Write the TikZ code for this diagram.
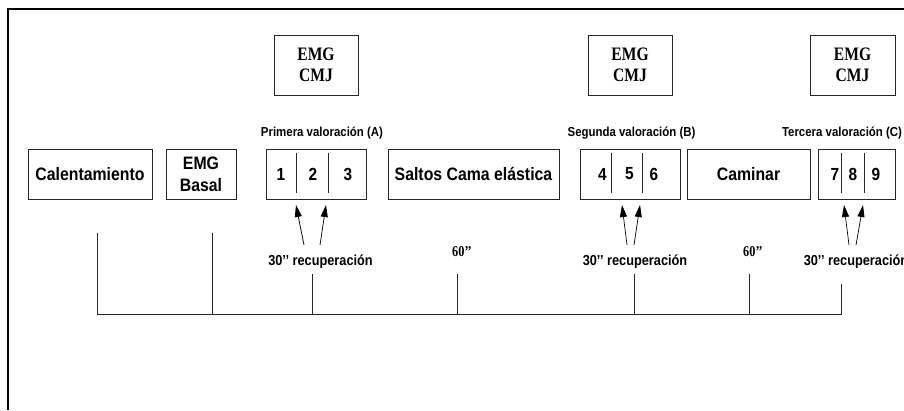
\documentclass[tikz,border=0pt]{standalone}
\usepackage{fontspec}
\setmainfont{Liberation Sans}[FakeStretch=0.88]
\newfontfamily\timesfont{Liberation Serif}[FakeStretch=0.82]
\usetikzlibrary{arrows.meta, calc}
\tikzset{
  stagebox/.style={draw=black!85, line width=0.8pt, minimum height=50pt, inner sep=0pt,
    font=\fontsize{18}{22}\selectfont\bfseries, align=center},
  cmjbox/.style={draw=black!85, line width=0.8pt, minimum width=84pt, minimum height=60pt,
    inner sep=0pt, font=\fontsize{19}{21}\selectfont\timesfont\bfseries, align=center},
  digit/.style={inner sep=0pt, font=\fontsize{17.5}{20}\selectfont\bfseries},
  evallabel/.style={inner sep=1pt, font=\fontsize{13}{15}\selectfont\bfseries},
  reclabel/.style={inner sep=1pt, font=\fontsize{14.5}{16}\selectfont\bfseries},
  restlabel/.style={inner sep=1pt, font=\fontsize{15}{16}\selectfont\timesfont\bfseries},
  divider/.style={line width=0.8pt, black!85},
  up/.style={-{Triangle[length=12pt,width=7pt]}, line width=0.7pt},
  tline/.style={line width=0.8pt, black!85}
}

\begin{document}
\begin{tikzpicture}[x=1pt, y=-1pt]
    \useasboundingbox (0,0) rectangle (904,410);
    \clip (0,0) rectangle (904,410);
    \draw[line width=2pt] (8,410) -- (8,8.5) -- (904,8.5);
    % EMG CMJ boxes
    \node[cmjbox] (cmj1) at (316,65) {EMG\\CMJ};
    \node[cmjbox] (cmj2) at (630,65) {EMG\\CMJ};
    \node[cmjbox, minimum width=85pt] (cmj3) at (852.5,65) {EMG\\CMJ};
    % assessment titles
    \node[evallabel] (tit1) at (322,133) {Primera valoración (A)};
    \node[evallabel] (tit2) at (631.5,133) {Segunda valoración (B)};
    \node[evallabel] (tit3) at (842,133) {Tercera valoración (C)};
    % protocol row
    \node[stagebox, minimum width=124pt] (cal) at (90,174) {Calentamiento};
    \node[stagebox, minimum width=70pt] (basal) at (201,174) {EMG\\Basal};
    \node[stagebox, minimum width=100pt] (set1) at (316,174) {};
    \node[stagebox, minimum width=171pt] (saltos) at (473.5,174) {Saltos Cama elástica};
    \node[stagebox, minimum width=100pt] (set2) at (630,174) {};
    \node[stagebox, minimum width=123pt] (cam) at (748.5,174) {Caminar};
    \node[stagebox, minimum width=77pt] (set3) at (856.5,174) {};
    % jumps
    \node[digit] (j1) at (281,174) {1};
    \node[digit] (j2) at (313,174) {2};
    \node[digit] (j3) at (348,174) {3};
    \node[digit] (j4) at (602.5,174) {4};
    \node[digit] (j5) at (629.5,174) {5};
    \node[digit] (j6) at (654,174) {6};
    \node[digit] (j7) at (835,174) {7};
    \node[digit] (j8) at (853,174) {8};
    \node[digit] (j9) at (876,174) {9};
    \foreach \dx in {296,328,611,642,841,864}
      \draw[divider] (\dx,153) -- (\dx,193);
    % rest labels
    \node[reclabel] (rec1) at (320.5,262) {30’’ recuperación};
    \node[reclabel] (rec2) at (635,262) {30’’ recuperación};
    \node[reclabel] (rec3) at (856,262) {30’’ recuperación};
    \node[restlabel] (rest1) at (462,252) {60’’};
    \node[restlabel] (rest2) at (753,252) {60’’};
    % arrows
    \coordinate (a1) at (304,245); \coordinate (b1) at (320,245);
    \coordinate (a2) at (627,245); \coordinate (b2) at (634,245);
    \coordinate (a3) at (849,245); \coordinate (b3) at (856,245);
    \draw[up] (a1) -- (296,205);
    \draw[up] (b1) -- (326,205);
    \draw[up] (a2) -- (622,205);
    \draw[up] (b2) -- (640,205);
    \draw[up] (a3) -- (844,205);
    \draw[up] (b3) -- (863,205);
    % time line
    \draw[tline] (97,233) -- (97,314) -- (841,314) -- (841,284);
    \draw[tline] (212,233) -- (212,314);
    \foreach \tx in {312,457,634,749}
      \draw[tline] (\tx,274) -- (\tx,314);
  \end{tikzpicture}
\end{document}
